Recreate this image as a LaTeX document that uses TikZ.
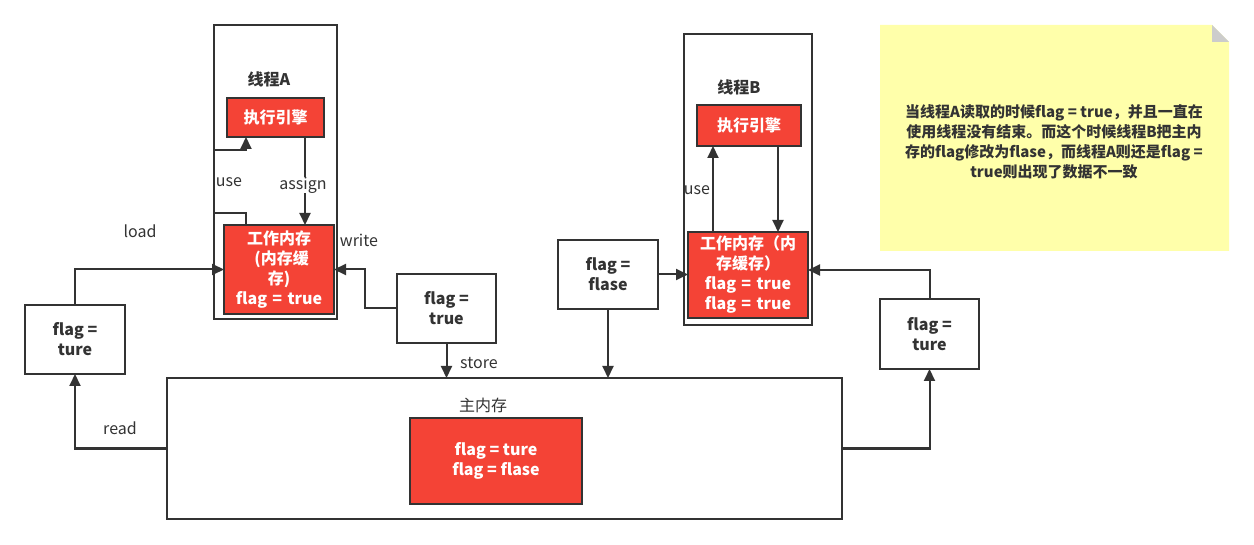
\documentclass[tikz,border=0pt]{standalone}
\usepackage{fontspec}
\setmainfont{Noto Sans CJK SC}
\usetikzlibrary{arrows.meta,calc}
\definecolor{dc}{RGB}{51,51,51}
\definecolor{redc}{RGB}{244,67,54}
\definecolor{notec}{RGB}{255,255,170}
\definecolor{foldc}{RGB}{204,204,204}
\begin{document}
\begin{tikzpicture}[x=1pt,y=-1pt,
  every node/.style={inner sep=0pt,outer sep=0pt},
  frame/.style={draw=dc,line width=2pt,fill=white},
  wbox/.style={draw=dc,line width=2pt,fill=white,text=dc,align=center,font=\fontsize{16}{20}\selectfont\bfseries},
  rbox/.style={draw=dc,line width=2pt,fill=redc,text=white,align=center,font=\fontsize{16}{20}\selectfont\bfseries},
  lbl/.style={text=dc,font=\fontsize{16}{18}\selectfont},
  tlbl/.style={text=dc,font=\fontsize{16}{18}\selectfont\bfseries},
  arr/.style={draw=dc,line width=2pt,-{Triangle[length=12pt,width=11pt]}}]
\useasboundingbox (0,0) rectangle (1254,545);
\fill[white] (0,0) rectangle (1254,545);
% thread frames
\node[frame,minimum width=123pt,minimum height=294pt] (thA) at (275.5,172) {};
\node[frame,minimum width=128pt,minimum height=291pt] (thB) at (748,179.5) {};
\node[tlbl] (tA) at (269,79) {线程A};
\node[tlbl] (tB) at (739,87) {线程B};
% engines and working memory
\node[rbox,minimum width=97pt,minimum height=39pt] (engA) at (275.5,117.5) {执行引擎};
\node[rbox,minimum width=110pt,minimum height=89pt,text width=104pt] (wmA) at (279,269.5) {工作内存\\\ (内存缓\\存)\\flag = true};
\node[rbox,minimum width=104pt,minimum height=41pt] (engB) at (749,125.5) {执行引擎};
\node[rbox,minimum width=120pt,minimum height=86pt,text width=116pt] (wmB) at (748,275) {工作内存（内\\存缓存）\\flag = true\\flag = true};
% value boxes
\node[wbox,minimum width=100pt,minimum height=69pt] (ld) at (75,339.5) {flag =\\ture};
\node[wbox,minimum width=99pt,minimum height=69pt] (wr) at (446.5,308.5) {flag =\\true};
\node[wbox,minimum width=100pt,minimum height=69pt] (fl) at (608,274.5) {flag =\\flase};
\node[wbox,minimum width=99pt,minimum height=70pt] (rt) at (929.5,334) {flag =\\ture};
% main memory
\node[frame,minimum width=675pt,minimum height=141pt] (mm) at (504.5,448.5) {};
\node[lbl] (mmt) at (483,405) {主内存};
\node[rbox,minimum width=172pt,minimum height=86pt] (mmr) at (496,461) {flag = ture\\flag = flase};
% connectors thread A
\draw[arr] ([xshift=29.5pt]engA.south) -- ([xshift=29.5pt]engA.south |- wmA.north);
\draw[arr] ([xshift=-33pt]wmA.north) -- ++(0,-12) -- ++(-32,0) -- ++(0,-63) -- ++(32,0) -- ([xshift=-29.5pt]engA.south);
\draw[arr] (ld.north) |- (wmA.west);
\draw[arr] (mm.west) -| (ld.south);
\draw[arr] (wr.west) -- ++(-32,0) |- (wmA.east);
\draw[arr] (wr.south) -- (wr.south |- mm.north);
% connectors thread B
\draw[arr] (fl.east) -- (fl.east -| wmB.west);
\draw[arr] (fl.south) -- (fl.south |- mm.north);
\draw[arr] ([xshift=-35pt]wmB.north) -- ([xshift=-35pt]wmB.north |- engB.south);
\draw[arr] ([xshift=29pt]engB.south) -- ([xshift=29pt]engB.south |- wmB.north);
\draw[arr] (mm.east) -| (rt.south);
\draw[arr] (rt.north) -- ++(0,-29) -- (wmB.east |- {0,270});
% labels
\node[lbl,fill=white] (lassign) at (303,185) {assign};
\node[lbl] (luseA) at (229,182) {use};
\node[lbl] (luseB) at (697,190) {use};
\node[lbl] (lload) at (140,231) {load};
\node[lbl] (lread) at (120,428) {read};
\node[lbl] (lwrite) at (359,240) {write};
\node[lbl] (lstore) at (479,363) {store};
% note
\fill[notec] (880,25) -- (1212,25) -- (1229,42) -- (1229,251) -- (880,251) -- cycle;
\fill[foldc] (1212,25) -- (1229,42) -- (1212,42) -- cycle;
\node[text=dc,align=center,font=\fontsize{15}{20}\selectfont\bfseries] (note) at (1054,142) {当线程A读取的时候flag = true，并且一直在\\使用线程没有结束。而这个时候线程B把主内\\存的flag修改为flase，而线程A则还是flag =\\true则出现了数据不一致};
\end{tikzpicture}
\end{document}
